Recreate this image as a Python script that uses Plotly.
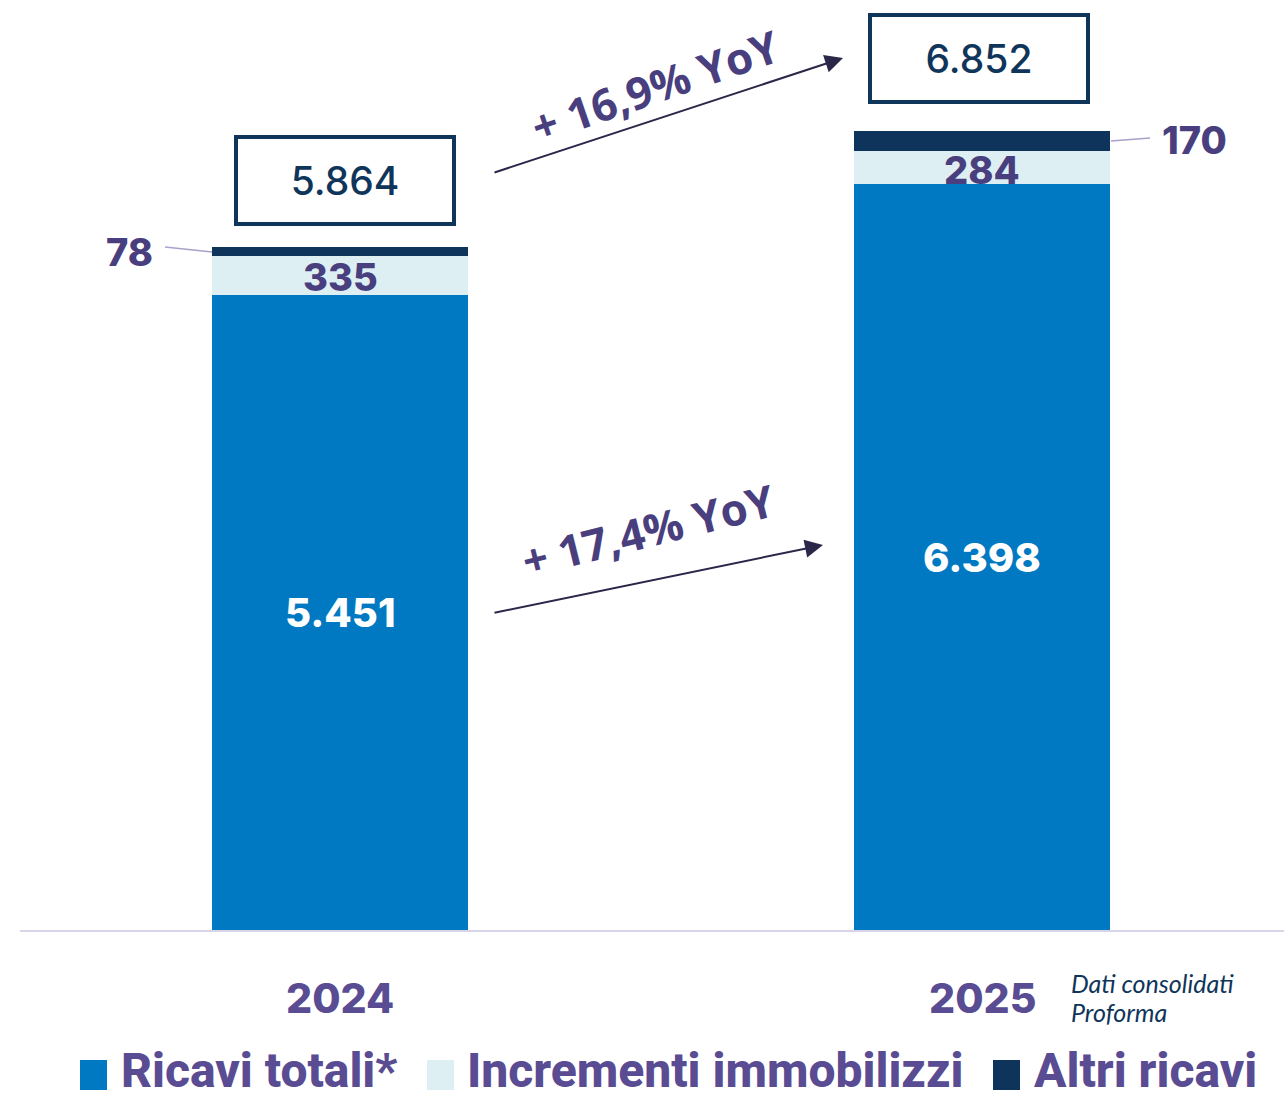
import plotly.graph_objects as go

# ---- data ----
years = ["2024", "2025"]
ricavi_totali = [5451, 6398]
incrementi = [335, 284]
altri_ricavi = [78, 170]
totali = [5864, 6852]
growth_tot = "+ 16,9% YoY"
growth_ric = "+ 17,4% YoY"
series_names = ["Ricavi totali*", "Incrementi immobilizzi", "Altri ricavi"]
note_lines = ["Dati consolidati", "Proforma"]

C_BLUE = "#0079C2"
C_LIGHT = "#DDEFF3"
C_DARK = "#0F345B"
C_PURPLE = "#4A3F7E"
C_LEG = "#5A4C93"
C_NAVY = "#10355A"
C_ARROW = "#2A2749"


def fmt(v):
    return f"{v:,}".replace(",", ".")


W, H = 1284, 1102
ML, MR, MT, MB = 20, 0, 0, 171
PW, PH = W - ML - MR, H - MT - MB
X0PX, UNIT = 340, 642
XMIN = -(X0PX - ML) / UNIT
XMAX = XMIN + PW / UNIT
YSCALE = 0.1167
YMAX = PH / YSCALE


def px_x(px):
    return (px - ML) / PW


def px_y(py):
    return (PH + MT - py) / PH


fig = go.Figure()
for vals, name, col in [(ricavi_totali, series_names[0], C_BLUE),
                        (incrementi, series_names[1], C_LIGHT),
                        (altri_ricavi, series_names[2], C_DARK)]:
    fig.add_trace(go.Bar(x=[0, 1], y=vals, name=name, marker=dict(color=col, line=dict(width=0)),
                         width=0.4, showlegend=False, hoverinfo="skip"))

ann = []
font_num = "Inter"
for i in range(2):
    ann.append(dict(x=i, y=ricavi_totali[i] / 2, xref="x", yref="y", text=fmt(ricavi_totali[i]),
                    showarrow=False, xanchor="center", yanchor="middle",
                    font=dict(family=font_num, size=40, color="white", weight=800)))
    ann.append(dict(x=i, y=ricavi_totali[i] + incrementi[i] / 2, xref="x", yref="y",
                    text=fmt(incrementi[i]), showarrow=False, yshift=-2,
                    xanchor="center", yanchor="middle",
                    font=dict(family=font_num, size=38, color=C_PURPLE, weight=800)))
    ann.append(dict(x=i, y=px_y(998), xref="x", yref="paper", text=years[i], showarrow=False,
                    xanchor="center", yanchor="middle",
                    font=dict(family=font_num, size=41, color=C_LEG, weight=800)))

# total boxes
box_pos = [(0.0, 180.5, 5), (1.0, 59, -3)]
for i, (xi, py, xs) in enumerate(box_pos):
    ann.append(dict(x=xi, y=px_y(py), xref="x", yref="paper", xshift=xs, text=fmt(totali[i]),
                    showarrow=False, width=208, height=77, bordercolor=C_NAVY, borderwidth=4, borderpad=3,
                    xanchor="center", yanchor="middle",
                    bgcolor="white", font=dict(family=font_num, size=39, color=C_NAVY, weight=500)))

# altri ricavi labels with leader lines
ann.append(dict(x=px_x(155), y=px_y(252), xref="paper", yref="paper", xanchor="right", yanchor="middle",
                text=fmt(altri_ricavi[0]), showarrow=False,
                font=dict(family=font_num, size=38, color=C_PURPLE, weight=800)))
ann.append(dict(x=px_x(1160), y=px_y(140), xref="paper", yref="paper", xanchor="left", yanchor="middle",
                text=fmt(altri_ricavi[1]), showarrow=False,
                font=dict(family=font_num, size=38, color=C_PURPLE, weight=800)))

# growth arrows
for (hx, hy, tx, ty) in [(843, 58, 493, 173), (823, 545, 493, 613)]:
    ann.append(dict(x=(hx - X0PX) / UNIT, y=(PH - hy) / YSCALE, ax=(tx - X0PX) / UNIT, ay=(PH - ty) / YSCALE,
                    xref="x", yref="y", axref="x", ayref="y", text="", showarrow=True,
                    arrowhead=2, arrowsize=1.8, arrowwidth=2, arrowcolor=C_ARROW))
ann.append(dict(x=px_x(655), y=px_y(86), xref="paper", yref="paper", text=growth_tot, textangle=-19,
                xanchor="center", yanchor="middle",
                showarrow=False, font=dict(family="Open Sans", size=44, color=C_PURPLE, weight=700)))
ann.append(dict(x=px_x(648), y=px_y(530), xref="paper", yref="paper", text=growth_ric, textangle=-14,
                xanchor="center", yanchor="middle",
                showarrow=False, font=dict(family="Open Sans", size=44, color=C_PURPLE, weight=700)))

# note
for k, py in enumerate([983, 1012]):
    ann.append(dict(x=px_x(1069), y=px_y(py), xref="paper", yref="paper", xanchor="left", yanchor="middle",
                    text=f"<i>{note_lines[k]}</i>", showarrow=False,
                    font=dict(family="Lato", size=25, color=C_NAVY)))

# custom legend
shapes = []
leg = [(80, 123, C_BLUE, series_names[0]), (427, 469, C_LIGHT, series_names[1]),
       (993, 1036, C_DARK, series_names[2])]
for sx, tx, col, name in leg:
    shapes.append(dict(type="rect", xref="paper", yref="paper", x0=px_x(sx), x1=px_x(sx + 27),
                       y0=px_y(1090), y1=px_y(1060), fillcolor=col, line=dict(width=0), layer="above"))
    ann.append(dict(x=px_x(tx - 4), y=px_y(1101), xref="paper", yref="paper", xanchor="left", yanchor="bottom",
                    text=name, showarrow=False,
                    font=dict(family="Roboto", size=48, color=C_LEG, weight=800)))

# leader lines
shapes.append(dict(type="line", xref="paper", yref="paper", x0=px_x(165), y0=px_y(247), x1=px_x(212),
                   y1=px_y(252), line=dict(color="#A9A0CC", width=1.5)))
shapes.append(dict(type="line", xref="paper", yref="paper", x0=px_x(1111), y0=px_y(141), x1=px_x(1150),
                   y1=px_y(138), line=dict(color="#A9A0CC", width=1.5)))
# baseline
shapes.append(dict(type="line", xref="paper", yref="paper", x0=0, x1=1, y0=0, y1=0,
                   line=dict(color="#D9D5E8", width=2), layer="above"))

fig.update_layout(
    width=W, height=H, margin=dict(l=ML, r=MR, t=MT, b=MB),
    barmode="stack", plot_bgcolor="white", paper_bgcolor="white",
    xaxis=dict(range=[XMIN, XMAX], visible=False, fixedrange=True),
    yaxis=dict(range=[0, YMAX], visible=False, fixedrange=True),
    annotations=ann, shapes=shapes, showlegend=False,
)
fig.write_html("out.html", config={"displayModeBar": False},
               post_script="document.body.style.margin='0px';document.body.style.overflow='hidden';")
